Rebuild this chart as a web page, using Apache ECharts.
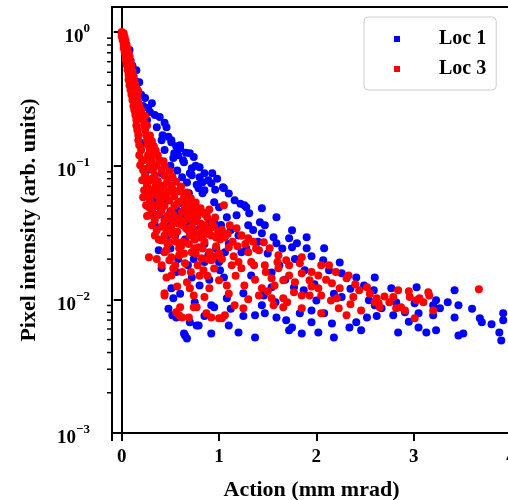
<!DOCTYPE html>
<html>
<head>
<meta charset="utf-8">
<script src="https://cdn.jsdelivr.net/npm/echarts@6/dist/echarts.min.js"></script>
<style>
  html, body { margin: 0; padding: 0; background: #fff; }
  #chart { width: 508px; height: 500px; }
</style>
</head>
<body>
<div id="chart"></div>
<script>
// 系列名称
const seriesNames = ['Loc 1', 'Loc 3'];

// Loc 1 (blue) : [action, intensity]
const loc1 = [
  [0.00,0.98],[0.01,0.90],[0.03,0.84],[0.04,0.78],[0.08,0.733],[0.06,0.67],[0.09,0.61],[0.11,0.56],[0.15,0.519],[0.12,0.47],
  [0.14,0.43],[0.18,0.422],[0.16,0.37],[0.24,0.321],[0.20,0.34],[0.31,0.293],[0.22,0.28],[0.29,0.252],[0.39,0.231],[0.26,0.22],
  [0.36,0.194],[0.46,0.194],[0.42,0.169],[0.51,0.155],[0.60,0.142],[0.44,0.131],[0.54,0.124],[0.70,0.124],[0.63,0.110],[0.80,0.0975],
  [0.70,0.0879],[0.93,0.0879],[0.83,0.0752],[0.92,0.0740],[1.04,0.0690],[0.62,0.082],[0.52,0.082],[1.16,0.0552],[1.28,0.0489],[1.44,0.0481],
  [1.59,0.0411],[0.60,0.0656],[0.67,0.0622],[0.83,0.0622],[0.95,0.0533],[0.75,0.0481],[0.87,0.0441],[0.21,0.147],[0.24,0.082],[0.32,0.0552],
  [0.32,0.0441],[0.41,0.155],[0.51,0.150],[0.60,0.135],[0.53,0.114],[0.64,0.106],[0.74,0.116],[0.72,0.0958],[0.80,0.082],[0.89,0.0779],
  [0.85,0.0656],[0.79,0.0679],[1.00,0.0489],[0.72,0.0849],[0.69,0.0622],[0.59,0.0524],[0.38,0.0715],[0.41,0.0879],[0.26,0.0925],[0.34,0.0552],
  [0.33,0.0426],[0.34,0.0358],[0.41,0.0277],[0.60,0.0426],[0.80,0.0465],[0.90,0.0371],[1.00,0.0301],[0.38,0.0233],[0.41,0.0171],[0.51,0.0121],
  [0.53,0.0102],[0.72,0.0146],[0.80,0.0127],[0.95,0.00871],[0.92,0.00902],[0.70,0.00673],[0.79,0.00638],[0.64,0.00556],[0.67,0.0051],[0.92,0.00556],
  [0.56,0.00733],[0.89,0.0214],[1.01,0.0165],[0.65,0.00537],[0.77,0.00638],[0.52,0.00759],[1.05,0.0679],[1.26,0.0506],[1.31,0.0441],[1.18,0.0426],
  [1.08,0.0411],[1.30,0.0358],[1.42,0.0378],[1.47,0.0358],[1.44,0.0312],[1.56,0.0291],[1.75,0.0329],[1.72,0.0286],[1.90,0.0291],[1.59,0.0263],
  [1.80,0.0263],[1.06,0.0225],[1.23,0.0225],[1.75,0.0245],[1.90,0.0241],[2.08,0.0241],[2.07,0.0196],[2.24,0.0189],[2.13,0.0165],[2.26,0.0157],
  [2.41,0.0146],[2.49,0.0127],[1.05,0.0146],[1.33,0.0151],[1.54,0.0159],[1.88,0.0165],[1.54,0.0123],[1.77,0.0123],[1.87,0.0117],[1.08,0.0102],
  [1.25,0.0111],[1.46,0.0107],[2.26,0.0104],[1.44,0.00902],[1.37,0.00759],[1.47,0.00786],[1.59,0.00733],[1.69,0.00697],[1.83,0.00786],[1.95,0.00827],
  [2.08,0.00786],[1.95,0.00673],[2.16,0.00661],[2.34,0.00617],[2.41,0.00673],[2.46,0.00586],[1.10,0.00638],[1.20,0.00566],[1.37,0.00519],[1.72,0.00586],
  [1.85,0.00556],[2.02,0.00566],[2.18,0.00519],[1.75,0.00617],[2.60,0.0146],[2.59,0.0117],[2.77,0.0121],[3.03,0.0123],[3.23,0.00983],[3.42,0.0117],
  [3.46,0.00902],[2.54,0.00983],[2.60,0.00902],[2.82,0.0095],[3.01,0.00934],[3.20,0.00902],[3.27,0.00857],[2.52,0.00733],[2.79,0.00759],[2.91,0.0080],
  [3.05,0.00786],[3.20,0.00759],[3.42,0.00733],[3.68,0.00721],[3.70,0.00673],[3.92,0.00786],[3.92,0.00697],[3.05,0.00617],[2.84,0.00566],[3.13,0.00566],
  [3.23,0.00586],[3.46,0.00537],[3.51,0.00556],[3.88,0.00566],[3.90,0.00493],[2.67,0.00857],[0.47,0.036],[0.55,0.030],[0.65,0.028],[0.78,0.033],
  [0.85,0.026],[0.62,0.022],[0.50,0.024],[0.44,0.040],[0.30,0.065],[0.36,0.050],[0.68,0.018],[0.97,0.024],[1.00,0.019],[0.56,0.016],[0.85,0.019],
  [0.45,0.055],[0.50,0.045],[0.57,0.046],[0.64,0.040],[0.70,0.036],[0.76,0.040],[0.82,0.030],[0.88,0.033],[0.95,0.038],[1.02,0.036],
  [1.12,0.033],[1.20,0.030],[1.35,0.033],[1.10,0.026],[1.28,0.024],[1.40,0.027],[1.50,0.022],[1.65,0.024],[1.62,0.018],[1.78,0.020],
  [1.95,0.021],[1.68,0.014],[1.98,0.013],[2.18,0.011],[2.35,0.012],[0.47,0.030],[0.58,0.020],[0.74,0.020],[0.90,0.014],[0.60,0.011],
  [0.75,0.0095],[0.85,0.0075],[0.48,0.0085],[1.12,0.0085],[1.25,0.0075],[1.58,0.0095],[2.00,0.0098],[2.62,0.0075],[2.95,0.0068],[3.35,0.0095],
  [3.60,0.0085],[3.80,0.0065],[0.27,0.27],[0.34,0.24],[0.44,0.21],[0.48,0.165],[0.56,0.14],[0.66,0.125],[0.58,0.12],[0.76,0.10],
  [0.85,0.088],[0.98,0.080],[1.10,0.062],[0.67,0.075],[0.77,0.072],[1.22,0.052],[0.96,0.066],[0.50,0.10],[0.57,0.092],[0.47,0.075]
];

// Loc 3 (red)
const loc3 = [
  [0.00,1.00],[0.02,0.98],[0.00,0.93],[0.03,0.92],[0.01,0.87],[0.04,0.86],[0.02,0.81],[0.05,0.80],[0.02,0.76],[0.06,0.75],
  [0.03,0.71],[0.07,0.70],[0.04,0.67],[0.08,0.66],[0.04,0.62],[0.09,0.61],[0.05,0.57],[0.10,0.56],[0.06,0.52],[0.11,0.51],
  [0.07,0.48],[0.12,0.47],[0.07,0.44],[0.13,0.43],[0.08,0.40],[0.14,0.40],[0.09,0.37],[0.15,0.37],[0.17,0.36],[0.10,0.34],
  [0.16,0.33],[0.11,0.31],[0.17,0.30],[0.12,0.28],[0.18,0.28],[0.13,0.26],[0.20,0.26],[0.14,0.24],[0.21,0.24],[0.24,0.235],
  [0.15,0.22],[0.22,0.22],[0.15,0.20],[0.23,0.20],[0.26,0.20],[0.16,0.185],[0.24,0.185],[0.17,0.17],[0.25,0.17],[0.29,0.168],
  [0.17,0.155],[0.26,0.155],[0.31,0.153],[0.18,0.142],[0.27,0.142],[0.33,0.14],[0.20,0.131],[0.29,0.131],[0.35,0.13],[0.18,0.12],
  [0.30,0.12],[0.37,0.12],[0.21,0.11],[0.31,0.11],[0.39,0.11],[0.43,0.108],[0.19,0.101],[0.29,0.101],[0.36,0.10],[0.44,0.10],
  [0.22,0.0925],[0.32,0.0925],[0.41,0.092],[0.49,0.091],[0.24,0.085],[0.34,0.085],[0.44,0.084],[0.52,0.083],[0.21,0.078],[0.29,0.078],
  [0.37,0.077],[0.47,0.077],[0.56,0.076],[0.26,0.0715],[0.35,0.0715],[0.43,0.071],[0.51,0.071],[0.61,0.070],[0.23,0.0656],[0.31,0.0656],
  [0.40,0.065],[0.49,0.065],[0.60,0.064],[0.67,0.063],[0.27,0.060],[0.36,0.060],[0.45,0.059],[0.54,0.059],[0.64,0.058],[0.71,0.057],
  [0.29,0.0552],[0.39,0.0552],[0.49,0.055],[0.60,0.054],[0.70,0.054],[0.76,0.053],[0.25,0.0506],[0.34,0.0506],[0.44,0.050],[0.54,0.050],
  [0.65,0.049],[0.75,0.049],[0.81,0.048],[0.31,0.0465],[0.41,0.0465],[0.51,0.046],[0.62,0.045],[0.72,0.046],[0.82,0.045],[0.28,0.0426],
  [0.37,0.0426],[0.47,0.042],[0.59,0.0404],[0.68,0.043],[0.78,0.042],[0.88,0.041],[0.34,0.0391],[0.44,0.039],[0.54,0.038],[0.65,0.039],
  [0.75,0.038],[0.85,0.0358],[0.93,0.037],[0.31,0.0358],[0.41,0.035],[0.51,0.035],[0.62,0.036],[0.72,0.035],[0.83,0.034],[0.95,0.035],
  [0.36,0.0329],[0.46,0.033],[0.57,0.032],[0.68,0.033],[0.78,0.032],[0.88,0.031],[0.99,0.032],[0.34,0.0301],[0.44,0.030],[0.54,0.030],
  [0.70,0.0301],[0.80,0.029],[0.92,0.0301],[1.06,0.029],[1.23,0.0301],[0.41,0.0277],[0.51,0.0312],[0.63,0.027],[0.75,0.028],[0.85,0.027],
  [1.01,0.028],[0.49,0.0267],[0.28,0.0489],[0.41,0.0506],[0.72,0.0426],[0.28,0.0207],[0.44,0.0225],[0.49,0.0196],[0.59,0.0241],[0.72,0.0225],
  [0.79,0.0245],[0.90,0.0225],[0.65,0.0186],[0.84,0.0165],[0.46,0.0146],[0.51,0.0151],[0.67,0.0134],[0.70,0.0121],[0.74,0.0107],[0.44,0.0107],
  [0.85,0.0104],[0.90,0.0121],[1.00,0.0139],[0.60,0.00871],[0.59,0.00759],[0.69,0.00733],[0.74,0.00871],[0.87,0.00786],[0.92,0.00733],[1.00,0.00721],
  [0.44,0.0111],[0.56,0.0080],[0.62,0.00733],[0.77,0.00871],[0.46,0.0233],[0.51,0.0207],[0.59,0.0214],[0.64,0.022],[0.75,0.0241],[0.82,0.0203],
  [0.92,0.0196],[1.00,0.022],[0.55,0.018],[0.62,0.016],[0.78,0.018],[0.57,0.0125],[0.80,0.015],[0.95,0.017],[0.97,0.025],[1.05,0.0506],
  [1.11,0.0358],[1.18,0.034],[1.06,0.0301],[1.23,0.0301],[1.30,0.0286],[1.46,0.0267],[1.10,0.0245],[1.30,0.0225],[1.41,0.0233],[1.52,0.0241],
  [1.61,0.0214],[1.69,0.0196],[1.85,0.0207],[1.83,0.0186],[1.13,0.018],[1.23,0.0171],[1.36,0.018],[1.47,0.018],[1.61,0.0171],[1.72,0.0151],
  [1.85,0.0157],[2.02,0.0151],[2.13,0.018],[2.05,0.018],[1.54,0.0144],[1.66,0.0139],[1.78,0.0134],[1.93,0.0139],[1.08,0.0127],[1.26,0.0127],
  [1.44,0.0121],[1.57,0.0127],[1.77,0.0113],[1.85,0.0107],[2.02,0.0121],[2.16,0.0132],[2.24,0.0121],[2.31,0.0144],[2.33,0.0151],[2.44,0.0117],
  [2.38,0.0104],[2.21,0.0102],[2.05,0.0107],[1.93,0.0107],[1.54,0.0102],[1.66,0.0102],[1.41,0.0107],[1.16,0.00902],[1.25,0.00857],[1.56,0.00902],
  [1.85,0.00857],[2.05,0.00786],[2.23,0.00857],[2.31,0.00759],[2.46,0.00827],[1.06,0.00759],[1.03,0.00721],[1.66,0.00871],[2.52,0.0123],[2.62,0.0102],
  [2.64,0.00934],[2.65,0.00871],[2.60,0.0095],[2.79,0.0104],[2.84,0.0117],[2.82,0.00857],[2.87,0.00871],[2.91,0.00827],[2.96,0.0104],[3.03,0.00983],
  [3.06,0.0102],[3.15,0.0113],[3.16,0.0107],[3.20,0.00827],[3.01,0.00721],[3.67,0.0119],
  [0.33,0.062],[0.38,0.068],[0.42,0.058],[0.47,0.063],[0.53,0.066],[0.57,0.052],[0.63,0.055],[0.67,0.047],[0.73,0.051],[0.79,0.046],
  [0.86,0.043],[0.90,0.047],[0.96,0.041],[0.39,0.044],[0.43,0.036],[0.48,0.040],[0.53,0.043],[0.58,0.037],[0.66,0.034],[0.70,0.040],
  [0.74,0.031],[0.81,0.037],[0.86,0.031],[0.91,0.034],[0.97,0.029],[1.03,0.033],[1.09,0.031],[1.14,0.027],[1.19,0.025],[1.27,0.026],
  [1.35,0.027],[1.38,0.024],[0.38,0.028],[0.47,0.026],[0.56,0.027],[0.61,0.025],[0.69,0.026],[0.76,0.022],[0.83,0.024],[0.88,0.020],
  [0.95,0.021],[1.03,0.020],[1.15,0.021],[1.20,0.019],[1.33,0.019],[0.36,0.020],[0.41,0.018],[0.53,0.017],[0.71,0.016],[0.88,0.015],
  [1.17,0.015],[1.37,0.014],[1.48,0.016],[1.60,0.019],[1.72,0.018],[1.95,0.016],[2.10,0.014],[2.20,0.016],[2.40,0.013],[2.55,0.011],
  [2.70,0.0105],[2.75,0.0095],[2.95,0.0115],[3.10,0.0095],[1.10,0.011],[1.30,0.010],[1.50,0.0115],[1.70,0.0095],[1.95,0.0125],[2.15,0.0098],
  [2.35,0.0092],[0.23,0.110],[0.27,0.120],[0.25,0.095],[0.31,0.080],[0.27,0.068],[0.22,0.058],[0.26,0.042]
];

// y 轴次刻度
const yMinorTicks = [
  0.002,0.003,0.004,0.005,0.006,0.007,0.008,0.009,
  0.02,0.03,0.04,0.05,0.06,0.07,0.08,0.09,
  0.2,0.3,0.4,0.5,0.6,0.7,0.8,0.9
];

const xName = 'Action (mm mrad)';
const yName = 'Pixel intensity (arb. units)';
const font = 'Liberation Serif';

const myChart = echarts.init(document.getElementById('chart'));

const option = {
  animation: false,
  grid: {
    left: 112, top: 7, right: -3, bottom: 67,
    outerBoundsMode: 'none',
    show: true, borderColor: '#000', borderWidth: 2
  },
  legend: {
    data: seriesNames,
    orient: 'vertical',
    left: 364, top: 17,
    icon: 'rect', itemWidth: 6, itemHeight: 6, itemGap: 8,
    padding: [11, 10, 10, 30],
    borderColor: '#ccc', borderWidth: 1, borderRadius: 4,
    backgroundColor: '#fff',
    textStyle: { fontFamily: font, fontWeight: 'bold', fontSize: 20, color: '#000', padding: [0, 0, 0, 34], lineHeight: 22 }
  },
  xAxis: {
    type: 'value', min: -0.1, max: 4, splitNumber: 4,
    name: xName, nameLocation: 'middle', nameGap: 46,
    nameTextStyle: { fontFamily: font, fontWeight: 'bold', fontSize: 22, color: '#000' },
    splitLine: { show: false },
    axisLine: { show: true, onZero: false, lineStyle: { color: '#000', width: 2 } },
    axisTick: { show: true, inside: false, length: 8, lineStyle: { color: '#000', width: 2 } },
    axisLabel: {
      margin: 15, fontFamily: font, fontWeight: 'bold', fontSize: 19, color: '#000',
      formatter: function (v) { return Number.isInteger(v) ? String(v) : ''; }
    }
  },
  yAxis: {
    type: 'log', logBase: 10, min: 0.001, max: 1.54,
    name: yName, nameLocation: 'middle', nameGap: 72,
    nameTextStyle: { fontFamily: font, fontWeight: 'bold', fontSize: 22, color: '#000' },
    splitLine: { show: false },
    axisLine: { show: true, lineStyle: { color: '#000', width: 2 } },
    axisTick: { show: true, inside: false, length: 8, lineStyle: { color: '#000', width: 2 } },
    axisLabel: {
      margin: 22, color: '#000', padding: [11, 0, 0, 0],
      formatter: function (v) {
        let e = Math.log10(v);
        if (Math.abs(e - Math.round(e)) > 1e-6) return '';
        e = Math.round(e);
        return '{b|10}{s|' + (e < 0 ? '\u2212' + (-e) : e) + '}';
      },
      rich: {
        b: { fontFamily: font, fontWeight: 'bold', fontSize: 19, color: '#000' },
        s: { fontFamily: font, fontWeight: 'bold', fontSize: 13, color: '#000', padding: [0, 0, 17, 0] }
      }
    }
  },
  series: [
    {
      name: seriesNames[0], type: 'scatter', data: loc1,
      symbol: 'circle', symbolSize: 8,
      itemStyle: { color: '#0000ff', opacity: 1 }
    },
    {
      name: seriesNames[1], type: 'scatter', data: loc3,
      symbol: 'circle', symbolSize: 8,
      itemStyle: { color: '#ff0000', opacity: 1 }
    },
    {
      // 次刻度线
      type: 'custom', silent: true, clip: false, z: 5,
      data: yMinorTicks.map(function (v) { return [-0.1, v]; }),
      renderItem: function (params, api) {
        let p = api.coord([api.value(0), api.value(1)]);
        return {
          type: 'line',
          shape: { x1: p[0] - 5, y1: p[1], x2: p[0], y2: p[1] },
          style: { stroke: '#000', lineWidth: 1.5 }
        };
      }
    }
  ]
};

myChart.setOption(option);
</script>
</body>
</html>
